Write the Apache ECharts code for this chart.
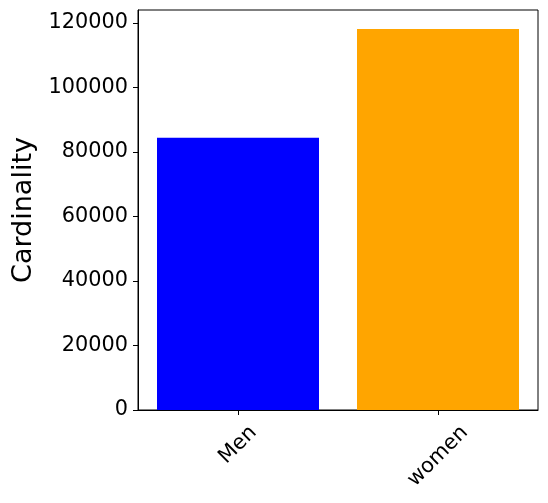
<!DOCTYPE html>
<html>
<head>
<meta charset="utf-8">
<script src="https://cdn.jsdelivr.net/npm/echarts@6/dist/echarts.min.js"></script>
<style>html,body{margin:0;padding:0;background:#fff}#c{width:548px;height:503px}</style>
</head>
<body>
<div id="c"></div>
<script>
const categories = ['Men', 'women'];
const counts = [84400, 118100];
const barColors = ['#0000ff', '#ffa500'];
const yTicks = [0, 20000, 40000, 60000, 80000, 100000, 120000];

const FONT = 'DejaVu Sans';
const chart = echarts.init(document.getElementById('c'), null, {renderer: 'canvas'});
chart.setOption({
  animation: false,
  backgroundColor: '#fff',
  grid: {left: 138, top: 10, right: 10, bottom: 93, show: true, borderColor: '#000', borderWidth: 1, backgroundColor: 'transparent'},
  xAxis: {
    type: 'category',
    data: categories,
    axisLine: {show: true, lineStyle: {color: '#000', width: 1}},
    axisTick: {show: true, alignWithLabel: true, length: 5, lineStyle: {color: '#000', width: 1}},
    axisLabel: {
      rotate: 45, margin: 35, align: 'center', verticalAlign: 'middle',
      color: '#000', fontFamily: FONT, fontSize: 20.8,
      formatter: function (v, i) { return i === 1 ? '{b|' + v + '}' : '{a|' + v + '}'; },
      rich: {
        a: {fontFamily: FONT, fontSize: 20.8, color: '#000'},
        b: {fontFamily: FONT, fontSize: 20.8, color: '#000', padding: [16, 16, 0, 0]}
      }
    },
    splitLine: {show: false}
  },
  yAxis: {
    type: 'value',
    min: 0, max: 124000, interval: 20000,
    name: 'Cardinality', nameLocation: 'middle', nameGap: 97,
    nameTextStyle: {color: '#000', fontFamily: FONT, fontSize: 27},
    axisLine: {show: true, lineStyle: {color: '#000', width: 1}},
    axisTick: {show: true, length: 5, lineStyle: {color: '#000', width: 1}, customValues: yTicks},
    axisLabel: {color: '#000', fontFamily: FONT, fontSize: 20.8, margin: 10, customValues: yTicks,
      formatter: function (v) { return String(v); }},
    splitLine: {show: false}
  },
  series: [{
    type: 'bar',
    barCategoryGap: '19%',
    data: counts.map((v, i) => ({value: v, itemStyle: {color: barColors[i]}}))
  }]
});
</script>
</body>
</html>
